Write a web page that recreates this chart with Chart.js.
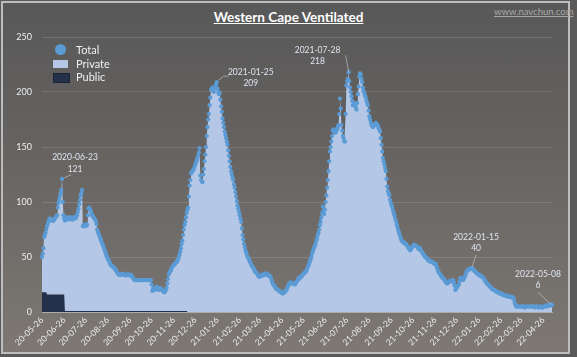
<!DOCTYPE html>
<html><head><meta charset="utf-8">
<script src="https://cdn.jsdelivr.net/npm/chart.js@4.4.0/dist/chart.umd.min.js"></script>
<style>
html,body{margin:0;padding:0;width:577px;height:357px;overflow:hidden;background:#5a5a5a;}
#frame{position:absolute;left:1px;top:1px;width:565px;height:349px;border:2px solid #bdbdbd;background:linear-gradient(to bottom,#585858 0%,#676462 45%,#7d7873 100%);}
#title{position:absolute;top:9px;left:0;width:577px;text-align:center;font:bold 13.5px Lato,sans-serif;color:#fff;text-decoration:underline;}
#site{position:absolute;top:6px;left:494px;font:9.5px Lato,sans-serif;color:#a8a8a8;text-decoration:underline;}
#legend{position:absolute;left:53px;top:44px;font:11px Lato,sans-serif;color:#f0f0f0;}
#legend .it{position:relative;height:13.5px;}
#legend .sw{position:absolute;top:2px;left:0;width:15px;height:8px;}
#legend .sw.dot{left:2px;top:0;width:11px;height:11px;border-radius:50%;}
#legend .tx{position:absolute;left:23px;top:-1px;white-space:nowrap;}
canvas{position:absolute;left:0;top:0;}
</style></head>
<body>
<div id="frame"></div>
<div id="title">Western Cape Ventilated</div>
<div id="site">www.navchun.com</div>
<canvas id="c" width="577" height="357"></canvas>
<div id="legend"></div>
<script>
const startDate = '2020-05-26';
const totalValues = [
50,53,58,68,70,72,75,78,80,82,
84,85,85,84,83,83,83,84,85,86,
87,88,95,99,102,105,108,111,121,100,
88,85,83,84,85,86,84,85,86,85,
84,86,85,84,86,85,86,85,87,88,
91,94,98,102,106,108,111,78,79,78,
79,78,80,79,88,94,95,93,92,90,
88,87,86,85,84,83,80,75,73,71,
70,68,66,64,62,61,59,57,55,53,
51,50,48,47,46,44,43,42,42,41,
41,40,39,38,37,36,35,34,34,34,
34,34,34,35,34,34,34,33,34,34,
34,34,34,33,34,33,32,31,30,29,
29,29,29,29,29,29,29,29,29,29,
29,29,29,29,29,29,29,29,29,29,
29,29,29,25,19,21,22,21,20,22,
23,22,21,20,21,22,21,20,20,19,
18,18,19,20,22,26,30,34,36,37,
38,40,41,42,43,43,44,45,46,46,
48,50,52,55,58,62,65,70,75,79,
82,86,90,93,95,105,115,120,126,127,
128,129,130,132,134,136,138,140,142,145,
149,124,120,119,118,125,130,137,143,150,
160,168,175,180,188,195,202,203,204,202,
200,203,205,207,209,203,200,198,199,193,
187,182,176,172,168,164,161,158,155,152,
147,142,137,132,128,125,122,120,116,113,
109,105,101,97,94,91,88,85,82,76,
70,66,62,59,56,54,52,50,49,48,
46,45,43,42,41,40,39,37,36,36,
35,34,33,32,32,33,33,34,33,34,
34,35,34,34,35,34,33,33,33,32,
30,28,26,25,24,23,22,21,21,20,
20,19,19,18,18,17,17,17,18,18,
19,20,21,23,24,26,26,27,26,26,
26,26,25,25,26,27,28,29,31,30,
31,32,32,33,34,35,35,36,37,37,
39,41,42,44,46,48,50,53,55,57,
59,60,62,65,67,70,72,75,79,82,
86,90,96,92,89,93,100,106,113,120,
128,137,146,150,155,160,165,166,164,163,
163,165,166,168,170,180,194,185,170,165,
160,158,155,155,180,206,210,212,218,210,
204,200,196,192,188,188,190,188,186,184,
190,198,205,214,217,216,212,209,204,201,
199,197,195,192,190,188,183,178,175,172,
170,169,168,169,170,171,172,171,170,169,
167,166,164,158,152,146,140,137,134,131,
128,121,114,110,108,106,102,99,97,95,
92,90,88,85,83,80,78,75,73,71,
69,67,65,64,64,63,63,62,62,61,
60,59,58,57,56,57,58,59,60,61,
61,61,60,60,59,58,57,57,58,56,
55,54,53,52,51,50,50,49,48,47,
47,46,46,46,46,45,45,44,44,44,
43,41,39,37,36,35,34,33,32,31,
31,30,29,28,27,26,26,27,27,28,
28,28,28,29,29,27,24,20,21,22,
23,24,25,28,31,31,30,30,29,30,
32,33,35,37,38,38,39,39,39,40,
40,39,39,38,37,37,36,35,35,34,
34,33,33,33,32,32,31,30,29,28,
27,26,25,25,24,23,23,22,21,21,
20,20,20,19,19,18,18,18,17,17,
17,17,16,16,16,15,15,15,15,15,
14,14,14,14,14,14,13,13,13,11,
8,6,5,5,5,5,5,5,5,5,
5,5,5,5,4,5,5,5,5,5,
5,5,5,5,5,5,5,5,4,5,
5,5,5,4,4,5,5,5,4,4,
5,5,5,5,6,6,5,6,6,6,
7,7,6
];
const publicValues = [
18,18,18,18,18,18,18,
16,16,16,16,16,16,16,16,16,16,16,16,16,16,16,16,16,16,16,16,16,16,16,16,16,
1,1,1,1,1,1,1,1,1,1, 1,1,1,1,1,1,1,1,1,1, 1,1,1,1,1,1,1,1,1,1,
1,1,1,1,1,1,1,1,1,1, 1,1,1,1,1,1,1,1,1,1, 1,1,1,1,1,1,1,1,1,1,
1,1,1,1,1,1,1,1,1,1, 1,1,1,1,1,1,1,1,1,1, 1,1,1,1,1,1,1,1,1,1,
1,1,1,1,1,1,1,1,1,1, 1,1,1,1,1,1,1,1,1,1, 1,1,1,1,1,1,1,1,1,1,
1,1,1,1,1,1,1,1,1,1, 1,1,1,1,1,1,1,1,1,1, 1,1,1,1,1,1,1,1,1,1,
1,1,1,1,1,1,1,1,1,1, 1,1,1,1,1,1,1,1,1,1, 1,1
];
const seriesNames = ['Total', 'Private', 'Public'];
const yTicks = [0, 50, 100, 150, 200, 250];
const annotDates = ['2020-06-23', '2021-01-25', '2021-07-28', '2022-01-15', '2022-05-08'];
const annotValues = [121, 209, 218, 40, 6];

// categories: one per day from startDate
const categories = [];
{
  const t0 = Date.parse(startDate + 'T00:00:00Z');
  for (let i = 0; i < totalValues.length; i++) {
    categories.push(new Date(t0 + i * 86400000).toISOString().slice(0, 10));
  }
}
const privateValues = totalValues.map((v, i) => v - (publicValues[i] || 0));

const COLORS = { total: '#5b9bd5', priv: '#b4c7e7', pub: '#25314a' };

// label placement styles (offsets in px relative to the data point)
const annotStyle = [
  { tx: 13, ty1: -22, ty2: -10, line: [[2, -1], [9, -4]] },
  { tx: 34, ty1: -10, ty2: 1, line: [[2, -2], [7, -6], [12, -6]] },
  { tx: -31, ty1: -22, ty2: -11, line: [[0, -1], [-3, -17]] },
  { tx: 5, ty1: -31, ty2: -20, line: [[1, -1], [5, -13]] },
  { tx: -14, ty1: -31, ty2: -20, line: [[-1, -1], [-14, -13]] }
];

const annotPlugin = {
  id: 'annots',
  afterDatasetsDraw(chart) {
    const ctx = chart.ctx, xs = chart.scales.x, ys = chart.scales.y;
    ctx.save();
    ctx.font = '8.5px Lato, sans-serif';
    ctx.textAlign = 'center';
    ctx.textBaseline = 'middle';
    annotDates.forEach((d, k) => {
      const idx = categories.indexOf(d);
      const px = xs.getPixelForValue(idx), py = ys.getPixelForValue(annotValues[k]);
      const st = annotStyle[k];
      ctx.strokeStyle = 'rgba(200,200,200,0.8)';
      ctx.lineWidth = 0.8;
      ctx.beginPath();
      st.line.forEach((p, j) => { j ? ctx.lineTo(px + p[0], py + p[1]) : ctx.moveTo(px + p[0], py + p[1]); });
      ctx.stroke();
      ctx.fillStyle = '#dde4ef';
      ctx.fillText(d, px + st.tx, py + st.ty1);
      ctx.fillText(String(annotValues[k]), px + st.tx, py + st.ty2);
    });
    ctx.restore();
  }
};

const chart = new Chart(document.getElementById('c'), {
  type: 'line',
  data: {
    labels: categories,
    datasets: [
      { label: seriesNames[2], data: publicValues, stack: 'parts', fill: 'origin',
        backgroundColor: COLORS.pub, borderWidth: 0, pointRadius: 0, tension: 0 },
      { label: seriesNames[1], data: privateValues, stack: 'parts', fill: 'origin',
        backgroundColor: COLORS.priv, borderWidth: 0, pointRadius: 0, tension: 0 },
      { label: seriesNames[0], data: totalValues, stack: 'total', showLine: false, order: -1,
        pointRadius: 2.1, pointBorderWidth: 0, pointBackgroundColor: COLORS.total,
        borderColor: COLORS.total, backgroundColor: COLORS.total }
    ]
  },
  options: {
    responsive: false,
    animation: false,
    devicePixelRatio: 1,
    layout: { padding: { top: 37, left: 0, right: 25, bottom: 5 } },
    plugins: {
      legend: { display: false },
      tooltip: { enabled: false },
      filler: { drawTime: 'beforeDatasetsDraw' }
    },
    scales: {
      x: {
        grid: { display: false, drawTicks: false },
        border: { display: true, color: 'rgba(190,190,190,0.7)' },
        ticks: {
          autoSkip: false, minRotation: 45, maxRotation: 45, padding: 3,
          color: '#eeeeee', font: { size: 8.5, family: 'Lato, sans-serif' },
          callback: (v, i) => categories[i].slice(8) === '26' ? categories[i].slice(2) : null
        },
        afterFit: s => { s.height = 40; }
      },
      y: {
        stacked: true, min: 0, max: 250,
        afterBuildTicks: s => { s.ticks = yTicks.map(v => ({ value: v })); },
        grid: { color: 'rgba(255,255,255,0.13)', drawTicks: false },
        border: { display: false },
        ticks: { padding: 10, color: '#eeeeee', font: { size: 9, family: 'Lato, sans-serif' } },
        afterFit: s => { s.width = 42; }
      }
    }
  },
  plugins: [annotPlugin]
});

// HTML legend built from the datasets
const legendOrder = [2, 1, 0];
const lg = document.getElementById('legend');
legendOrder.forEach(di => {
  const ds = chart.data.datasets[di];
  const it = document.createElement('div'); it.className = 'it';
  const sw = document.createElement('div');
  sw.className = 'sw' + (di === 2 ? ' dot' : '');
  sw.style.background = di === 2 ? COLORS.total : ds.backgroundColor;
  if (di === 0) sw.style.border = '1px solid #1a2436';
  const tx = document.createElement('div'); tx.className = 'tx'; tx.textContent = ds.label;
  it.appendChild(sw); it.appendChild(tx); lg.appendChild(it);
});
</script>
</body></html>
